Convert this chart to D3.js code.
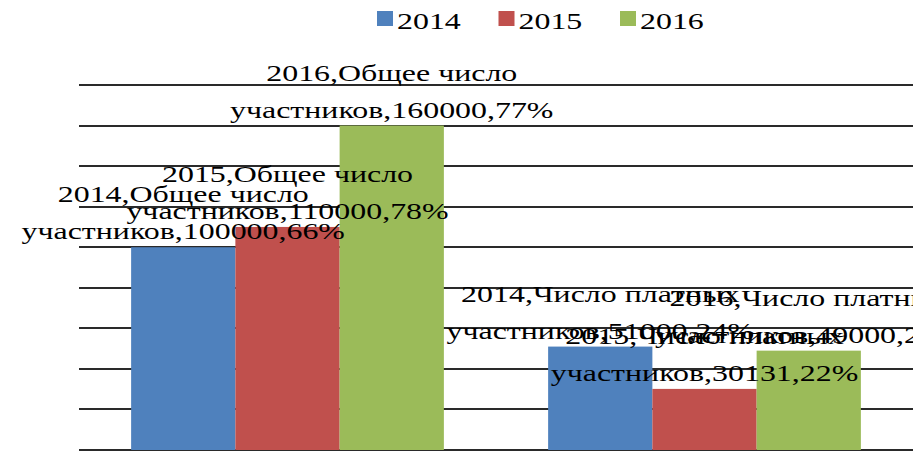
<!DOCTYPE html>
<html>
<head>
<meta charset="utf-8">
<script src="https://cdn.jsdelivr.net/npm/d3@7"></script>
<style>
  body { margin: 0; background: #fff; }
  svg { display: block; }
</style>
</head>
<body>
<div id="chart"></div>
<script>
const categories = ["Общее число участников", "Число платных участников"];
const years = ["2014", "2015", "2016"];
const values2014 = [100000, 51000];
const values2015 = [110000, 30131];
const values2016 = [160000, 49000];
const percents2014 = [66, 24];
const percents2015 = [78, 22];
const percents2016 = [77, 23];
const yTicks = [0, 20000, 40000, 60000, 80000, 100000, 120000, 140000, 160000, 180000];

const seriesValues = { "2014": values2014, "2015": values2015, "2016": values2016 };
const seriesPercents = { "2014": percents2014, "2015": percents2015, "2016": percents2016 };

const width = 913;
const height = 453;
const stretch = 1.33; // text in the picture is wider than it is tall
const colors = d3.scaleOrdinal().domain(years).range(["#4f81bd", "#c0504d", "#9bbb59"]);

const svg = d3
  .select("#chart")
  .append("svg")
  .attr("width", width)
  .attr("height", height)
  .style("font-family", "'Liberation Serif', 'Times New Roman', serif");

const x0 = d3.scaleBand().domain(categories).range([79, 913]);
const x1 = d3
  .scaleBand()
  .domain(years)
  .range([0, x0.bandwidth()])
  .paddingInner(0)
  .paddingOuter(0.5);
const y = d3.scaleLinear().domain([0, 180000]).range([450, 85]);

// gridlines
svg
  .append("g")
  .selectAll("line")
  .data(yTicks)
  .enter()
  .append("line")
  .attr("x1", 79)
  .attr("x2", width)
  .attr("y1", (d) => Math.round(y(d)))
  .attr("y2", (d) => Math.round(y(d)))
  .attr("stroke", "#2a2a2a")
  .attr("stroke-width", 2);

const rows = [];
categories.forEach((cat, i) => {
  years.forEach((yr) => {
    rows.push({ cat, i, year: yr, value: seriesValues[yr][i], pct: seriesPercents[yr][i] });
  });
});

// bars
svg
  .append("g")
  .selectAll("rect")
  .data(rows)
  .enter()
  .append("rect")
  .attr("x", (d) => x0(d.cat) + x1(d.year))
  .attr("y", (d) => y(d.value))
  .attr("width", x1.bandwidth())
  .attr("height", (d) => y(0) - y(d.value))
  .attr("fill", (d) => colors(d.year));

// data labels, wrapped in two lines above each bar
const labels = svg.append("g").selectAll("g").data(rows).enter().append("g");

labels.each(function (d) {
  const cx = x0(d.cat) + x1(d.year) + x1.bandwidth() / 2;
  const top = y(d.value);
  const split = d.cat.lastIndexOf(" ");
  const head = d.cat.slice(0, split);
  const tail = d.cat.slice(split + 1);
  const lines = [`${d.year},${head}`, `${tail},${d.value},${d.pct}%`];
  d3.select(this)
    .selectAll("text")
    .data(lines)
    .enter()
    .append("text")
    .attr("transform", (t, k) => `translate(${cx},${top - 8 - (1 - k) * 37}) scale(${stretch},1)`)
    .attr("text-anchor", "middle")
    .style("font-size", "24px")
    .attr("fill", "#000")
    .text((t) => t);
});

// legend
const legendX = d3.scalePoint().domain(years).range([377, 620]);
const legend = svg.append("g").selectAll("g").data(years).enter().append("g");

legend
  .append("rect")
  .attr("x", (d) => legendX(d))
  .attr("y", 11)
  .attr("width", 16)
  .attr("height", 15)
  .attr("fill", (d) => colors(d));

legend
  .append("text")
  .attr("transform", (d) => `translate(${legendX(d) + 20},29) scale(${stretch},1)`)
  .style("font-size", "24px")
  .attr("fill", "#000")
  .text((d) => d);
</script>
</body>
</html>
